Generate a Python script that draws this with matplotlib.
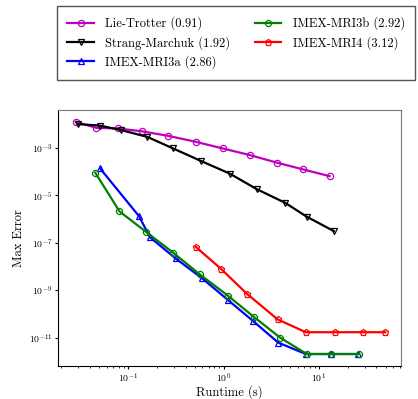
import matplotlib
matplotlib.use("Agg")
import matplotlib.pyplot as plt
from matplotlib.ticker import NullLocator

plt.rcParams['font.family'] = 'serif'
plt.rcParams['font.serif'] = ['cmr10']
plt.rcParams['mathtext.fontset'] = 'cm'
plt.rcParams['axes.formatter.use_mathtext'] = True

# Lie-Trotter
lt_time = [0.0285, 0.0465, 0.0776, 0.139, 0.264, 0.511, 0.986, 1.91, 3.6, 6.83, 12.9]
lt_err = [1.24e-2, 6.95e-3, 6.6e-3, 5.0e-3, 3.2e-3, 1.8e-3, 9.4e-4, 4.9e-4, 2.4e-4, 1.23e-4, 6.4e-5]

# Strang-Marchuk
sm_time = [0.030, 0.0504, 0.0846, 0.159, 0.297, 0.586, 1.155, 2.24, 4.43, 7.45, 14.3]
sm_err = [1.0e-2, 8.7e-3, 5.6e-3, 2.9e-3, 9.4e-4, 2.75e-4, 8.3e-5, 1.8e-5, 4.8e-6, 1.25e-6, 3.1e-7]

# IMEX-MRI3a
m3a_time = [0.051, 0.130, 0.17, 0.314, 0.596, 1.11, 2.02, 3.74, 7.27, 13.5, 25.5]
m3a_err = [1.35e-4, 1.33e-6, 1.7e-7, 2.2e-8, 3.2e-9, 3.9e-10, 5.2e-11, 6.2e-12, 2.05e-12, 2.05e-12, 2.05e-12]

# IMEX-MRI3b
m3b_time = [0.0454, 0.0813, 0.154, 0.297, 0.562, 1.11, 2.07, 3.92, 7.45, 13.5, 26.1]
m3b_err = [8.9e-5, 2.1e-6, 2.9e-7, 3.8e-8, 4.7e-9, 5.9e-10, 7.6e-11, 1.0e-11, 2.05e-12, 2.05e-12, 2.05e-12]

# IMEX-MRI4
m4_time = [0.51, 0.946, 1.77, 3.69, 7.27, 14.6, 29.0, 49.5]
m4_err = [6.8e-8, 7.8e-9, 6.9e-10, 5.9e-11, 1.7e-11, 1.7e-11, 1.7e-11, 1.7e-11]

fig = plt.figure(figsize=(4.18, 3.99), dpi=100)
ax = fig.add_axes([0.139, 0.0835, 0.82, 0.6405])

kw = dict(lw=1.6, ms=4.5, mfc='none', mew=0.9)
ax.plot(lt_time, lt_err, color='m', marker='o', label='Lie-Trotter (0.91)', **kw)
ax.plot(sm_time, sm_err, color='k', marker='v', label='Strang-Marchuk (1.92)', **kw)
ax.plot(m3a_time, m3a_err, color='b', marker='^', label='IMEX-MRI3a (2.86)', **kw)
ax.plot(m3b_time, m3b_err, color='g', marker='8', label='IMEX-MRI3b (2.92)', **kw)
ax.plot(m4_time, m4_err, color='r', marker='p', label='IMEX-MRI4 (3.12)', **kw)

ax.set_xscale('log')
ax.set_yscale('log')
ax.set_xlim(0.0185, 72)
ax.set_ylim(10**-12.18, 10**-1.41)
ax.set_yticks([1e-3, 1e-5, 1e-7, 1e-9, 1e-11])
ax.yaxis.set_minor_locator(NullLocator())
ax.set_xlabel('Runtime (s)', fontsize=9, labelpad=0)
ax.set_ylabel('Max Error', fontsize=9, labelpad=3)
ax.tick_params(labelsize=7, length=2.5, pad=1.5)
ax.tick_params(which='minor', length=1.5)
for s in ['top', 'right']:
    ax.spines[s].set_color('#777777')

fig.legend(loc='upper left', bbox_to_anchor=(0.136, 0.985), borderaxespad=0, ncol=2,
           fontsize=9, fancybox=False, edgecolor='#555555', framealpha=1,
           handlelength=2.1, handletextpad=0.9, columnspacing=2.0,
           labelspacing=0.45, borderpad=0.85)

fig.savefig('out.png', dpi=100)
